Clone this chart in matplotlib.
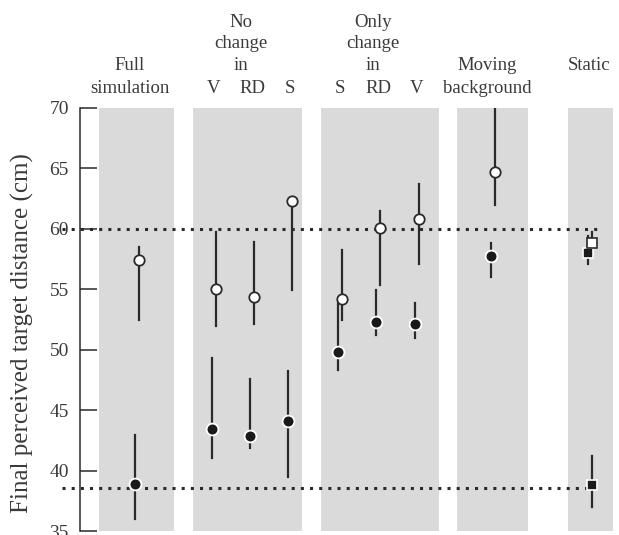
import numpy as np
import matplotlib.pyplot as plt

plt.rcParams['font.family'] = ['Liberation Serif', 'DejaVu Serif']

# condition labels (bottom header row) and group titles
cond_labels = ["", "V", "RD", "S", "S", "RD", "V", "", ""]
group_titles = [["Full", "simulation"], ["No", "change", "in"], ["Only", "change", "in"],
                ["Moving", "background"], ["Static"]]
# header row of the last line of each title (0 = top row, 3 = bottom row)
title_last_row = [3, 2, 2, 3, 2]

# open circles (upper series)
open_mean = [57.4, 55.0, 54.4, 62.3, 54.2, 60.1, 60.8, 64.7]
open_lo = [52.5, 52.0, 52.1, 54.9, 52.5, 55.35, 57.1, 62.0]
open_hi = [58.5, 59.7, 58.9, 62.3, 58.25, 61.5, 63.7, 70.5]
# filled circles (lower series)
filled_mean = [38.9, 43.4, 42.9, 44.1, 49.8, 52.3, 52.1, 57.75]
filled_lo = [36.0, 41.0, 41.85, 39.5, 48.3, 51.2, 50.95, 56.05]
filled_hi = [42.95, 49.3, 47.55, 48.25, 53.9, 54.9, 53.85, 58.8]
# static condition (squares)
static_open = [58.8, 58.3, 59.7]
static_filled = [[58.0, 57.1, 59.45], [38.8, 37.0, 41.2]]

ref_lines = [60.0, 38.55]

# layout (horizontal positions in axis units)
xpos = [137, 214, 252, 290, 340, 378, 417, 493, 590]
bands = [(99, 174), (193, 302), (321, 439), (457, 528), (568, 613)]
title_x = [130, 241, 373, 487, 589]
row_base = [76.7, 74.96, 73.14, 71.24]

fig = plt.figure(figsize=(6.19, 5.35), dpi=100)
ax = fig.add_axes([80/619, 4/535, 539/619, 423/535])
ax.set_xlim(80, 619)
ax.set_ylim(35, 70)

dark = '#2a2a2a'
txt = '#3a3a3a'
for a, b in bands:
    ax.axvspan(a, b, color='#dadada', lw=0, zorder=0)

for y in ref_lines:
    ax.plot([62, 598], [y, y], color=dark, lw=2.2, ls=(0, (1.0, 2.0)),
            clip_on=False, zorder=1)

off = 2
for i in range(8):
    xo = xpos[i] + off
    xf = xpos[i] - off
    ax.plot([xf, xf], [filled_lo[i], filled_hi[i]], color=dark, lw=1.6, zorder=2)
    ax.plot(xf, filled_mean[i], 'o', ms=8.5, mfc='#1a1a1a', mec='white', mew=1.3, zorder=3)
    ax.plot([xo, xo], [open_lo[i], min(open_hi[i], 70)], color=dark, lw=1.6, zorder=2)
    ax.plot(xo, open_mean[i], 'o', ms=7.5, mfc='white', mec=dark, mew=1.3, zorder=4)

xs = xpos[8]
for j, (m, lo, hi) in enumerate(static_filled):
    xx = xs - off if j == 0 else xs + off
    ax.plot([xx, xx], [lo, hi], color=dark, lw=1.6, zorder=2)
    ax.plot(xx, m, 's', ms=6.5, mfc='#1a1a1a', mec='white', mew=1.2, zorder=3)
ax.plot([xs + off, xs + off], [static_open[1], static_open[2]], color=dark, lw=1.6, zorder=2)
ax.plot(xs + off, static_open[0], 's', ms=6.5, mfc='white', mec=dark, mew=1.2, zorder=4)

# spines and ticks
for s in ['top', 'right', 'bottom']:
    ax.spines[s].set_visible(False)
ax.spines['left'].set_color(dark)
ax.spines['left'].set_linewidth(1.1)
ax.set_xticks([])
ax.set_yticks(np.arange(35, 71, 5))
ax.tick_params(axis='y', direction='in', length=12, width=1.1, color=dark,
               labelsize=14, labelcolor=txt, pad=8)
fig.text(22/619, 1 - 333/535, "Final perceived target distance (cm)", rotation=90,
         ha='center', va='center', fontsize=18, color=txt)

# header text
for x, lines, last in zip(title_x, group_titles, title_last_row):
    first = last - len(lines) + 1
    for k, t in enumerate(lines):
        ax.text(x, row_base[first + k], t, ha='center', va='baseline',
                fontsize=13.5, color=txt, clip_on=False)
for x, t in zip(xpos, cond_labels):
    if t:
        ax.text(x, row_base[3], t, ha='center', va='baseline', fontsize=13.5,
                color=txt, clip_on=False)

fig.savefig("out.png", dpi=100)
